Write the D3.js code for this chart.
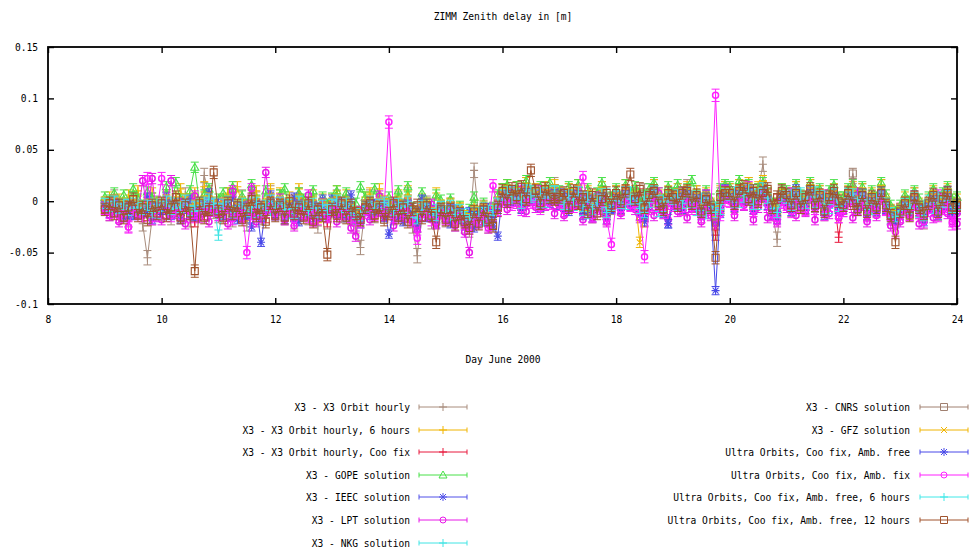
<!DOCTYPE html>
<html>
<head>
<meta charset="utf-8">
<script src="https://cdn.jsdelivr.net/npm/d3@7"></script>
<style>
  body { margin: 0; background: #fff; }
  svg text { font-family: "DejaVu Sans Mono", monospace; font-size: 9.6px; fill: #000; }
</style>
</head>
<body>
<svg id="chart" width="971" height="554"></svg>
<script>
// Zenith delay residuals at ZIMM, 2-hourly epochs from 9 June 00h to 24 June 00h (values in mm)
const sampleDays = d3.range(181).map(i => 9 + i / 12);

const xTicks = [8, 10, 12, 14, 16, 18, 20, 22, 24];
const yTicks = [-0.1, -0.05, 0, 0.05, 0.1, 0.15];
const yTickLabels = ["-0.1", "-0.05", "0", "0.05", "0.1", "0.15"];

const x3Hourly = [
  -3,-12,4,-14,-5,-18,2,-10,-22,-55,-16,-2,
  -12,2,-16,-4,-14,6,-18,-9,-8,25,8,-10,
  -14,-2,6,-18,-7,4,-22,-8,2,-16,-6,8,
  -12,4,-16,-5,-20,6,-10,-16,0,-24,-4,-20,
  -8,4,-14,-2,-16,-24,-45,-6,4,-14,-2,-10,
  -4,-16,2,-12,6,-24,-53,-12,-2,-20,-14,-8,
  -18,-4,-22,-10,-24,-28,30,-16,-6,-24,-14,2,
  10,14,4,12,-4,16,6,10,-4,12,4,16,
  6,-8,10,-2,14,-10,6,-14,-2,12,-16,-6,
  8,-6,14,2,6,-12,10,-4,14,0,-10,6,
  4,10,-6,14,-4,8,-14,4,-10,-16,6,12,
  10,-4,14,6,16,-8,10,36,4,-12,-37,8,
  6,-8,12,2,-6,14,-4,8,-12,4,10,-10,
  -6,6,10,-4,10,-12,4,-8,14,-4,-16,-14,
  -14,-2,-12,6,-8,-20,-4,6,-12,-2,8,-10,
  -6];

const x3Hourly6h = [
  -2,4,-6,2,-8,6,-4,10,-5,2,8,-6,
  -8,6,-10,4,12,-4,-12,8,-6,14,4,-8,
  -10,2,8,-12,14,-4,-14,6,10,-8,-2,12,
  -6,8,-10,4,-14,12,-2,-10,6,-16,2,-6,
  2,10,-6,6,-12,-16,-20,4,8,-8,12,0,
  -2,-10,6,-8,10,-14,-18,2,-6,-12,8,-4,
  -14,-2,-18,-6,-20,-22,-4,-14,-8,-18,-10,4,
  12,16,6,14,2,18,8,12,4,14,8,16,
  8,-2,12,4,16,-4,10,-8,6,14,-8,2,
  10,2,16,6,10,-4,-8,4,16,6,-2,10,
  6,12,2,14,4,10,-6,8,-2,-8,10,14,
  12,4,16,10,18,2,14,20,8,-2,-10,12,
  8,0,14,4,2,16,4,10,-4,6,12,-2,
  2,10,14,4,12,-4,8,0,16,2,-8,-14,
  -8,4,-4,8,-2,-12,2,10,-4,4,12,-2,
  2];

const x3HourlyCooFix = [
  -7,-4,-10,-6,-12,-8,-5,-11,-9,-14,-7,-10,
  -5,-12,-8,-4,-14,-7,-10,-20,-6,-13,-9,-3,
  -8,-13,-5,-10,-7,-15,-9,-4,-12,-8,-16,-6,
  -11,-7,-14,-5,-10,-8,-13,-6,-17,-9,-12,-20,
  -8,-11,-5,-13,-7,-10,-15,-9,-6,-12,-8,-14,
  -10,-6,-13,-8,-16,-11,-25,-14,-7,-12,-18,-10,
  -15,-11,-19,-13,-17,-24,-14,-18,-12,-16,-20,-10,
  5,1,7,3,9,2,6,6,0,8,4,2,
  0,3,-4,5,-2,1,-6,2,-8,-1,3,-3,
  4,1,6,-1,2,7,-20,3,5,0,-5,4,
  1,-2,3,6,-1,2,-7,0,-4,-33,1,4,
  3,0,5,8,2,6,1,4,7,-3,2,5,
  2,-1,4,-4,1,6,-2,3,-6,1,5,-35,
  -3,3,0,-5,2,-7,1,-4,4,-2,-9,-18,
  -7,-3,-10,0,-5,-9,-4,1,-8,-1,3,-6,
  -4];

const gope = [
  4,1,8,-3,6,-5,12,2,-4,9,3,-1,
  -3,14,-6,18,2,-4,10,33,-2,6,12,-8,
  2,8,-4,14,-9,5,-3,16,1,-6,10,-2,
  -6,6,12,-5,-12,8,2,-8,10,-14,4,-3,
  3,10,-4,8,-10,-2,14,4,-6,12,2,-5,
  4,-8,10,-3,14,-6,-12,8,-2,-10,6,1,
  -10,2,-14,-5,-18,-8,4,-12,-2,-20,-6,6,
  12,16,8,14,6,20,10,4,14,8,18,10,
  10,2,14,6,16,-2,12,-4,8,18,-6,4,
  12,4,16,8,14,-2,6,12,18,8,2,14,
  8,16,4,12,20,6,-4,10,2,-6,12,16,
  14,6,20,10,16,4,12,18,8,-2,-8,12,
  10,2,16,6,4,18,8,12,-2,10,16,4,
  4,12,16,8,14,-2,10,4,18,6,-4,-10,
  -4,6,0,10,2,-8,4,12,-2,8,14,2,
  4];

const ieec = [
  -4,-12,2,-10,-16,-2,-14,-6,-11,4,-18,-8,
  -6,4,-14,-2,-18,-8,2,-15,-12,-4,8,-10,
  -2,-14,-8,4,-18,-6,-12,-25,-2,-16,-8,6,
  -14,-2,-18,-8,4,-20,-10,-4,-16,-6,2,-12,
  2,-12,-4,-16,6,-18,-22,-6,-14,-2,-10,-16,
  -10,-2,-16,-20,-4,-12,-26,2,-16,-8,-22,-4,
  -16,-22,-8,-18,-24,-10,-26,-14,-20,-6,-24,-34,
  6,-2,10,4,-8,12,0,8,-6,10,-2,12,
  -4,8,-10,4,10,-14,2,-16,-6,6,-18,-8,
  6,-8,10,-4,4,-14,-20,-2,10,-6,-12,-22,
  -4,8,-8,10,-6,4,-14,6,-10,-20,-12,12,
  8,-6,10,2,12,-8,4,14,-4,-14,-18,6,
  4,-10,12,-4,-8,10,-6,6,-14,-2,8,-10,
  -8,6,4,-10,8,-14,2,-10,10,-8,-18,-22,
  -14,-4,-12,6,-10,-20,-6,4,-14,-2,10,-12,
  -8];

const lpt = [
  -8,-14,-2,-20,-6,-25,-3,-12,20,-10,22,-15,
  -18,-4,20,-12,-2,-22,-9,5,-16,-3,-20,-6,
  -14,-2,-22,10,-8,-16,-5,12,-20,-9,28,-6,
  -12,2,-18,-7,-24,-4,-14,6,-20,-10,-3,-16,
  -6,-20,-2,-12,-26,-34,-10,-4,-18,-8,5,-14,
  -10,-24,-4,-15,-2,-20,-28,-8,-14,-3,-22,-12,
  -18,-6,-24,-12,-30,-50,-16,-22,-8,-26,-14,-4,
  4,-8,9,-2,12,-10,3,-6,10,-4,6,-12,
  2,-14,6,-6,10,-18,-2,-16,4,-10,-20,-6,
  6,-12,10,-4,-8,-16,-10,2,-14,8,-6,-18,
  4,-10,8,-16,2,-8,-20,6,-14,-22,-4,10,
  6,-14,10,-4,14,-18,-6,8,-16,-12,-20,4,
  -6,8,-14,2,-10,10,-18,-2,6,-12,4,-16,
  -10,4,-16,8,-4,-20,0,-14,6,-8,-24,-18,
  -20,-6,-14,4,-22,-10,-2,-16,6,-8,-12,-20,
  -22];

const nkg = [
  -2,-6,-1,-5,-9,-3,-8,-4,-10,-6,-2,-12,
  -4,-7,-1,-9,-5,-3,-10,-6,-2,-8,-4,-1,
  -33,-6,-3,-9,-12,-5,-8,-2,-11,-7,-4,-9,
  -5,-9,-3,-12,-6,-1,-8,-4,-10,-6,-13,-7,
  -3,-7,-1,-10,-5,-12,-14,-6,-2,-9,-4,-8,
  -6,-2,-9,-5,-12,-7,-16,-4,-10,-13,-8,-5,
  -10,-14,-8,-16,-12,-18,-11,-15,-19,-9,-13,-4,
  6,3,9,1,7,4,10,2,8,-1,5,9,
  3,-2,6,-4,1,-9,-12,-5,2,-3,7,-1,
  5,1,-3,9,2,-6,4,-1,10,-10,0,6,
  2,-4,7,-1,5,-9,3,-12,-5,-6,1,8,
  4,9,-1,6,2,11,-3,7,0,-6,-9,5,
  1,6,-2,8,-4,3,9,-1,5,-7,2,-3,
  -2,7,3,-5,5,-1,-8,2,6,-4,-10,-13,
  -8,-2,-6,3,-11,-4,1,-7,4,-3,6,-5,
  -3];

const cnrs = [
  -4,-7,-3,-9,-5,-11,-4,-8,-10,-6,-12,-5,
  -7,-2,-10,-4,-8,-1,-11,-8,-6,-3,0,-4,
  -9,-5,-2,-13,-7,-4,-12,-8,-3,-11,-6,-1,
  -8,-3,-10,-5,-14,-2,-7,-11,-4,-13,-6,-10,
  -5,-1,-8,-4,-11,-14,-16,-7,-2,-9,-5,-3,
  -6,-11,-4,-8,-2,-13,-19,-9,-5,-14,-16,-7,
  -12,-6,-15,-10,-17,-20,-13,-13,-8,-19,-11,-4,
  4,7,1,5,-4,9,2,4,-3,6,2,8,
  1,-5,4,-1,7,-7,2,-10,-3,5,-13,-6,
  3,-4,7,0,1,-9,-13,-3,8,-1,-7,2,
  0,4,-4,7,-3,3,-11,1,-7,-14,-9,5,
  4,-3,7,2,9,-5,5,11,1,-9,-13,3,
  1,-6,6,-1,-4,8,-3,3,-9,0,5,-7,
  -5,2,27,-3,5,-10,0,-6,7,-4,-13,-17,
  -11,-4,-9,1,-7,-16,-5,2,-10,-3,4,-8,
  -5];

const gfz = [
  -1,-4,1,-6,-2,-8,0,-5,-7,-3,-9,-2,
  -4,1,-7,-1,-5,2,-8,-4,-3,0,3,-1,
  -6,-2,1,-10,-4,-1,-9,-5,0,-8,-3,2,
  -5,0,-7,-2,-11,1,-4,-8,-1,-10,-3,-7,
  -2,2,-5,-1,-8,-11,-13,-4,1,-6,-2,0,
  -3,-8,-1,-5,1,-10,-16,-6,-2,-11,-13,-4,
  -9,-3,-12,-7,-14,-17,-10,-10,-5,-16,-8,-1,
  7,10,4,8,-1,12,5,7,0,9,5,11,
  4,-2,7,2,10,-4,5,-7,0,8,-10,-3,
  6,-1,10,3,4,-40,-10,0,11,2,-4,5,
  3,7,-1,10,0,6,-8,4,-4,-10,-7,8,
  7,0,10,5,12,-2,8,14,4,-6,-10,6,
  4,-3,9,2,-1,11,0,6,-6,3,8,-4,
  -2,5,8,0,8,-7,3,-3,10,-1,-10,-14,
  -8,-1,-6,4,-4,-13,-2,5,-7,0,7,-5,
  -2];

const ultraAmbFree = [
  -5,-9,-3,-11,-6,-13,-5,-10,-12,-7,-15,-6,
  -9,-3,-12,-5,-10,-2,-13,-9,-8,-4,-1,-6,
  -11,-6,-3,-15,-8,-5,-14,-10,-4,-40,-7,-2,
  -10,-4,-12,-6,-16,-3,-8,-13,-5,-15,-7,-11,
  -6,-2,-9,-5,-13,-16,-18,-8,-3,-11,-6,-4,
  -32,-12,-5,-9,-3,-14,-20,-10,-6,-15,-17,-8,
  -13,-7,-16,-11,-18,-22,-14,-14,-9,-20,-12,-8,
  3,6,0,4,-5,8,2,3,-4,5,1,7,
  0,-6,3,-2,6,-8,1,-11,-4,4,-14,-7,
  2,-5,6,-1,0,-10,-15,-4,7,-2,-8,-22,
  -1,3,-5,6,-4,2,-12,0,-8,-87,-10,4,
  3,-4,6,1,8,-6,4,10,0,-10,-14,2,
  0,-7,5,-2,-5,7,-4,2,-10,-1,4,-8,
  -6,1,4,-4,4,-11,-1,-7,6,-5,-14,-18,
  -12,-5,-10,0,-8,-17,-6,1,-11,-4,3,-9,
  -6];

const ultraAmbFix = [
  -7,-11,-6,-15,-9,-25,-8,-12,-14,22,-17,-9,
  22,-6,-14,-8,-12,-5,-15,-11,-10,-7,-4,-8,
  -13,-9,-6,-17,-11,-8,-50,-12,-7,-15,-10,-5,
  -12,-7,-14,-9,-18,-6,-11,-15,-8,-17,-10,-14,
  -9,-5,-12,-8,-15,-18,-20,-11,-6,-13,-9,-7,
  77,-15,-8,-12,-6,-17,-36,-13,-9,-18,-20,-11,
  -16,-10,-19,-14,-21,-26,-17,-17,-12,-23,15,-8,
  0,3,-3,1,-8,5,-1,0,-7,2,-2,4,
  -3,-9,0,-5,3,23,-2,-14,-7,1,-17,-42,
  -1,-8,3,-4,-3,-13,-54,-7,4,-5,-11,-2,
  -4,0,-8,3,-7,-1,-15,-3,-11,103,-13,1,
  0,-7,3,-2,5,-9,1,7,-3,-13,-17,-1,
  -3,-10,2,-5,-8,4,-7,-1,-13,-4,1,-15,
  -9,-2,1,-7,1,-14,-4,-10,3,-8,-17,-30,
  -15,-8,-13,-3,-11,-20,-9,-2,-14,-7,0,-22,
  -12];

const ultraAmbFree6h = [
  -2,-5,0,-7,-3,-9,-2,-6,-8,-4,-11,-3,
  -5,0,-8,-2,-6,1,-9,-5,-4,-1,2,-2,
  -7,-3,0,-11,-5,-2,-10,-6,-1,-9,-4,1,
  -6,-1,-8,-3,-12,0,-5,-9,-2,-11,-4,-8,
  -3,1,-6,-2,-9,-12,-14,-5,0,-7,-3,-1,
  -4,-9,-2,-6,0,-11,-17,-7,-3,-12,-14,-5,
  -10,-4,-13,-8,-15,-18,-11,-11,-6,-17,-9,-2,
  6,9,3,7,-2,11,4,6,-1,8,4,10,
  3,-3,6,1,9,-5,4,-8,-1,7,-11,-4,
  5,-2,9,2,3,-7,-11,-1,10,1,-5,4,
  2,6,-2,9,-1,5,-9,3,-5,-11,-8,7,
  6,-1,9,4,11,-3,7,13,3,-7,-11,5,
  3,-4,8,1,-2,10,-1,5,-7,2,7,-5,
  -3,4,7,-1,7,-8,2,-4,9,-2,-11,-15,
  -9,-2,-7,3,-5,-14,-3,4,-8,-1,6,-6,
  -3];

const ultraAmbFree12h = [
  -8,-2,-12,-4,-16,-6,2,-14,-6,-18,-4,-12,
  -2,-14,-6,4,-16,-4,-12,-68,-2,-16,-8,28,
  -10,-16,-2,-12,-4,-18,-8,2,-14,-6,-20,-2,
  -14,-4,-16,0,-12,-6,-16,-2,-20,-8,-14,-52,
  -8,-14,-2,-16,-4,-12,-18,-6,-2,-14,-6,-18,
  -12,-2,-16,-6,-20,-8,-4,-16,-4,-14,-40,-8,
  -18,-8,-22,-12,-20,-26,-10,-22,-8,-18,-24,-6,
  10,0,12,4,14,2,30,10,-2,12,4,2,
  4,8,-6,10,-2,4,-10,6,-12,2,8,-4,
  8,0,10,26,2,12,-6,6,10,-2,-8,8,
  4,-4,8,10,-2,6,-10,2,-6,-55,4,8,
  8,-2,10,14,2,10,0,8,12,-6,4,10,
  6,-4,8,-6,4,12,-4,6,-10,4,10,0,
  -4,8,-2,-8,6,-10,4,-6,8,-4,-14,-40,
  -10,-2,-14,4,-6,-12,-2,6,-10,2,8,-6,
  -4];

// Formal errors (mm) per solution
const sigmaMm = [7, 5, 5, 5, 4, 5, 5, 5, 5, 4, 6, 5, 6];

const seriesNames = [
  "X3 - X3 Orbit hourly",
  "X3 - X3 Orbit hourly, 6 hours",
  "X3 - X3 Orbit hourly, Coo fix",
  "X3 - GOPE solution",
  "X3 - IEEC solution",
  "X3 - LPT solution",
  "X3 - NKG solution",
  "X3 - CNRS solution",
  "X3 - GFZ solution",
  "Ultra Orbits, Coo fix, Amb. free",
  "Ultra Orbits, Coo fix, Amb. fix",
  "Ultra Orbits, Coo fix, Amb. free, 6 hours",
  "Ultra Orbits, Coo fix, Amb. free, 12 hours"
];
const seriesValues = [x3Hourly, x3Hourly6h, x3HourlyCooFix, gope, ieec, lpt, nkg,
  cnrs, gfz, ultraAmbFree, ultraAmbFix, ultraAmbFree6h, ultraAmbFree12h];

// Drawing styles
const seriesColors = ["#a88c7c", "#f0b400", "#e8183c", "#48e048", "#5050e8", "#e818e8", "#40e4e4",
  "#a08070", "#f0b400", "#4848e8", "#ff20ff", "#40e8e8", "#a0522d"];
const seriesMarkers = ["plus", "plus", "plus", "triangle", "star", "circle", "plus",
  "square", "cross", "star", "circle", "plus", "square"];

const width = 971, height = 554;
const margin = { left: 48, right: 957, top: 47, bottom: 304 };

const svg = d3.select("#chart");
svg.append("rect").attr("width", width).attr("height", height).attr("fill", "#fff");

const x = d3.scaleLinear().domain([8, 24]).range([margin.left, margin.right]);
const y = d3.scaleLinear().domain([-0.1, 0.15]).range([margin.bottom, margin.top]);

function markerPath(type, cx, cy) {
  const r = 4;
  switch (type) {
    case "plus": return `M${cx - r},${cy}H${cx + r}M${cx},${cy - r}V${cy + r}`;
    case "cross": return `M${cx - 3},${cy - 3}L${cx + 3},${cy + 3}M${cx - 3},${cy + 3}L${cx + 3},${cy - 3}`;
    case "star": return `M${cx - r},${cy}H${cx + r}M${cx},${cy - r}V${cy + r}M${cx - 3},${cy - 3}L${cx + 3},${cy + 3}M${cx - 3},${cy + 3}L${cx + 3},${cy - 3}`;
    case "triangle": return `M${cx},${cy - 4}L${cx + 4},${cy + 3}L${cx - 4},${cy + 3}Z`;
    case "square": return `M${cx - 3.5},${cy - 3.5}h7v7h-7Z`;
    case "circle": return `M${cx - 3},${cy}a3,3 0 1,0 6,0a3,3 0 1,0 -6,0`;
  }
  return "";
}

// Plot data: each solution as error bars, connecting line and point symbols
const plot = svg.append("g");
const line = d3.line().x(d => x(d.day)).y(d => y(d.value));

seriesValues.forEach((vals, s) => {
  const pts = vals.map((v, i) => ({ day: sampleDays[i], value: v / 1000, err: sigmaMm[s] / 1000 }));
  const color = seriesColors[s];
  const g = plot.append("g").attr("stroke", color).attr("fill", "none").attr("stroke-width", 1);

  g.append("path").attr("d", line(pts));

  const bars = pts.map(p => {
    const cx = x(p.day), y0 = y(p.value - p.err), y1 = y(p.value + p.err);
    return `M${cx},${y0}V${y1}M${cx - 4},${y0}H${cx + 4}M${cx - 4},${y1}H${cx + 4}`;
  }).join("");
  g.append("path").attr("d", bars);

  const marks = pts.map(p => markerPath(seriesMarkers[s], x(p.day), y(p.value))).join("");
  g.append("path").attr("d", marks).attr("stroke-width", seriesMarkers[s] === "circle" ? 1.5 : 1.1);
});

// Frame and ticks
const axes = svg.append("g");
axes.append("g").attr("transform", `translate(0,${margin.bottom})`)
  .call(d3.axisBottom(x).tickValues(xTicks).tickSizeInner(-6).tickSizeOuter(0).tickPadding(12).tickFormat(d3.format("d")));
axes.append("g").attr("transform", `translate(0,${margin.top})`)
  .call(d3.axisTop(x).tickValues(xTicks).tickSizeInner(-6).tickSizeOuter(0).tickFormat(""));
axes.append("g").attr("transform", `translate(${margin.left},0)`)
  .call(d3.axisLeft(y).tickValues(yTicks).tickSizeInner(-6).tickSizeOuter(0).tickPadding(10)
    .tickFormat((d, i) => yTickLabels[i]));
axes.append("g").attr("transform", `translate(${margin.right},0)`)
  .call(d3.axisRight(y).tickValues(yTicks).tickSizeInner(-6).tickSizeOuter(0).tickFormat(""));
axes.selectAll(".domain").remove();
axes.selectAll(".tick line").attr("stroke", "#000").attr("stroke-width", 1.4);
axes.selectAll("text").attr("font-family", "DejaVu Sans Mono, monospace").attr("font-size", 9.6).attr("fill", "#000");

svg.append("rect")
  .attr("x", margin.left).attr("y", margin.top)
  .attr("width", margin.right - margin.left).attr("height", margin.bottom - margin.top)
  .attr("fill", "none").attr("stroke", "#000").attr("stroke-width", 1.8);

// Titles
svg.append("text").attr("x", 503).attr("y", 20).attr("text-anchor", "middle").text("ZIMM Zenith delay in [m]");
svg.append("text").attr("x", 503).attr("y", 363).attr("text-anchor", "middle").text("Day June 2000");

// Key: two columns
const rowY = [407, 430, 452, 475, 497, 520, 543];
const key = svg.append("g");
seriesNames.forEach((name, s) => {
  const col = s < 7 ? 0 : 1;
  const row = s < 7 ? s : s - 7;
  const textX = col === 0 ? 410 : 910;
  const x0 = col === 0 ? 419 : 920;
  const x1 = x0 + 48;
  const cy = rowY[row];
  key.append("text").attr("x", textX).attr("y", cy + 3.5).attr("text-anchor", "end").text(name);
  const g = key.append("g").attr("stroke", seriesColors[s]).attr("fill", "none").attr("stroke-width", 1);
  g.append("path").attr("d", `M${x0},${cy}H${x1}M${x0},${cy - 2.5}V${cy + 2.5}M${x1},${cy - 2.5}V${cy + 2.5}`);
  g.append("path").attr("d", markerPath(seriesMarkers[s], (x0 + x1) / 2, cy));
});
</script>
</body>
</html>
